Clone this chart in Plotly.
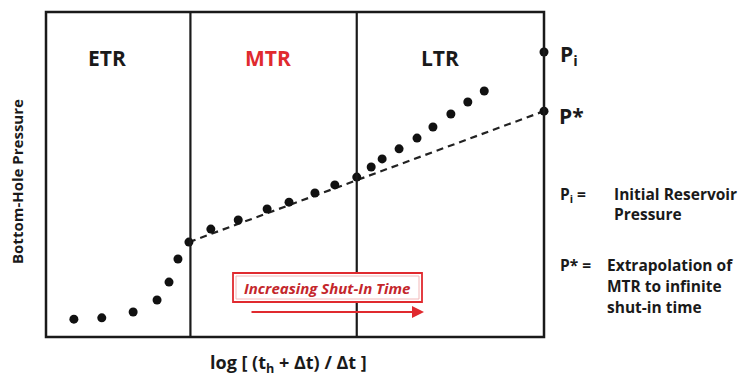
import plotly.graph_objects as go

# ---- data (axis units 0..100) ----
x_vals = [5.6, 11.2, 17.5, 22.3, 24.7, 26.5, 28.7, 33.1, 38.6, 44.4, 48.8, 54.0,
          58.0, 62.4, 65.3, 67.5, 70.9, 74.5, 77.7, 81.3, 84.7, 88.0]
y_vals = [5.5, 5.9, 7.7, 11.4, 16.9, 24.0, 29.2, 33.2, 36.0, 39.4, 41.5, 44.3,
          46.8, 49.2, 52.3, 54.8, 57.9, 61.2, 64.6, 68.6, 72.3, 75.7]
region_bounds = [29.0, 62.4]
region_labels = ["ETR", "MTR", "LTR"]
region_centers = [12.3, 44.6, 79.1]
mtr_start = [28.7, 29.2]   # first MTR point
x_end = 100.0
p_star = 69.5
p_i = 87.7

W, H = 748, 385
L, R, T, B = 46, 544, 12, 337
FONT = "Open Sans"
RED = "#e02a2f"
INK = "#1a1a1a"


def px(xp):
    return (xp - L) / (R - L)


def py(yp):
    return (B - yp) / (B - T)


fig = go.Figure()

# extrapolated MTR line
fig.add_trace(go.Scatter(x=[mtr_start[0], x_end], y=[mtr_start[1], p_star], mode="lines",
                         line=dict(color="#222", width=2.2, dash="7px,5px"),
                         hoverinfo="skip", showlegend=False))
# data points
fig.add_trace(go.Scatter(x=x_vals, y=y_vals, mode="markers",
                         marker=dict(color="#111", size=9),
                         showlegend=False))
# Pi and P* markers on right edge
fig.add_trace(go.Scatter(x=[x_end, x_end], y=[p_i, p_star], mode="markers",
                         marker=dict(color="#111", size=9), cliponaxis=False,
                         showlegend=False))

shapes = [
    dict(type="rect", xref="paper", yref="paper", x0=0, x1=1, y0=0, y1=1,
         line=dict(color=INK, width=2.5), layer="above"),
]
for b in region_bounds:
    shapes.append(dict(type="line", xref="x", yref="paper", x0=b, x1=b, y0=0, y1=1,
                       line=dict(color=INK, width=2.2)))
# red box
shapes.append(dict(type="rect", xref="paper", yref="paper",
                   x0=px(233), x1=px(422), y0=py(302), y1=py(273),
                   line=dict(color=RED, width=1.8), fillcolor="white"))
shapes.append(dict(type="rect", xref="paper", yref="paper",
                   x0=px(236), x1=px(419), y0=py(299), y1=py(276),
                   line=dict(color="#f2b8b9", width=1), fillcolor="rgba(0,0,0,0)"))


def ann(xp, yp, text, size, color=INK, xanchor="center", **kw):
    return dict(x=px(xp), y=py(yp), xref="paper", yref="paper", text=text,
                showarrow=False, xanchor=xanchor, yanchor="middle",
                font=dict(family=FONT, size=size, color=color), **kw)


annotations = []
for lab, cx in zip(region_labels, region_centers):
    annotations.append(dict(x=cx, y=py(58), xref="x", yref="paper", text="<b>%s</b>" % lab,
                            showarrow=False, xanchor="center", yanchor="middle",
                            font=dict(family=FONT, size=21,
                                      color=RED if lab == "MTR" else INK)))
annotations += [
    ann(558, 55, "<b>P<sub>i</sub></b>", 21, xanchor="left"),
    ann(557, 116, "<b>P*</b>", 21, xanchor="left"),
    ann(17, 182, "<b>Bottom-Hole Pressure</b>", 15, textangle=-90),
    ann(288, 363, "<b>log [ (t<sub>h</sub> + Δt) / Δt ]</b>", 18),
    ann(327, 288, "<b><i>Increasing Shut-In Time</i></b>", 15, color="#c4262b"),
    dict(x=px(424), y=py(312), xref="paper", yref="paper", ax=-174, ay=0,
         text="", showarrow=True, arrowhead=2, arrowsize=1.2, arrowwidth=2,
         arrowcolor=RED),
]
legend_rows = [
    ("<b>P<sub>i</sub> =</b>", "<b>Initial Reservoir</b>", 194, 612),
    ("", "<b>Pressure</b>", 214, 612),
    ("<b>P* =</b>", "<b>Extrapolation of</b>", 265, 605),
    ("", "<b>MTR to infinite</b>", 286, 605),
    ("", "<b>shut-in time</b>", 307, 605),
]
for k, v, yy, xx in legend_rows:
    if k:
        annotations.append(ann(558, yy, k, 15.5, xanchor="left"))
    annotations.append(ann(xx, yy, v, 15.5, xanchor="left"))

fig.update_layout(
    width=W, height=H,
    margin=dict(l=L, r=W - R, t=T, b=H - B),
    paper_bgcolor="white", plot_bgcolor="white",
    xaxis=dict(range=[0, 100], showgrid=False, zeroline=False, showticklabels=False,
               ticks="", fixedrange=True),
    yaxis=dict(range=[0, 100], showgrid=False, zeroline=False, showticklabels=False,
               ticks="", fixedrange=True),
    shapes=shapes, annotations=annotations, showlegend=False,
)

fig.write_html("out.html")
